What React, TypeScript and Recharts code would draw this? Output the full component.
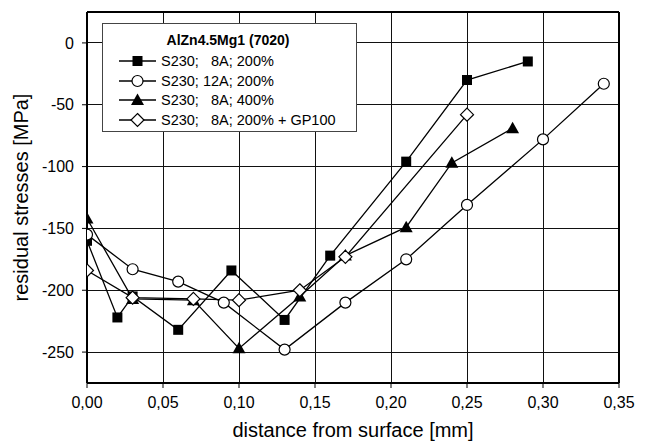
import { LineChart, Line, XAxis, YAxis, CartesianGrid, ReferenceLine } from 'recharts';

const xTicks = [0, 0.05, 0.1, 0.15, 0.2, 0.25, 0.3, 0.35];
const yTicks = [-250, -200, -150, -100, -50, 0];

// S230; 8A; 200%
const s8A200 = [
  { x: 0, y: -160 }, { x: 0.02, y: -222 }, { x: 0.03, y: -205 }, { x: 0.06, y: -232 },
  { x: 0.095, y: -184 }, { x: 0.13, y: -224 }, { x: 0.16, y: -172 }, { x: 0.21, y: -96 },
  { x: 0.25, y: -30 }, { x: 0.29, y: -15 },
];
// S230; 12A; 200%
const s12A200 = [
  { x: 0, y: -155 }, { x: 0.03, y: -183 }, { x: 0.06, y: -193 }, { x: 0.09, y: -210 },
  { x: 0.13, y: -248 }, { x: 0.17, y: -210 }, { x: 0.21, y: -175 }, { x: 0.25, y: -131 },
  { x: 0.3, y: -78 }, { x: 0.34, y: -33 },
];
// S230; 8A; 400%
const s8A400 = [
  { x: 0, y: -142 }, { x: 0.03, y: -207 }, { x: 0.07, y: -208 }, { x: 0.1, y: -247 },
  { x: 0.14, y: -205 }, { x: 0.17, y: -172 }, { x: 0.21, y: -149 }, { x: 0.24, y: -97 },
  { x: 0.28, y: -69 },
];
// S230; 8A; 200% + GP100
const s8A200GP = [
  { x: 0, y: -184 }, { x: 0.03, y: -206 }, { x: 0.07, y: -207 }, { x: 0.1, y: -208 },
  { x: 0.14, y: -200 }, { x: 0.17, y: -173 }, { x: 0.25, y: -58 },
];

const legendTitle = 'AlZn4.5Mg1 (7020)';
const legendLabels = ['S230;   8A; 200%', 'S230; 12A; 200%', 'S230;   8A; 400%', 'S230;   8A; 200% + GP100'];

const FONT = '"Liberation Sans", Arial, sans-serif';

type Shape = 'square' | 'circle' | 'triangle' | 'diamond';

const marker = (shape: Shape, cx: number, cy: number, key?: string) => {
  switch (shape) {
    case 'square':
      return <rect key={key} x={cx - 5} y={cy - 5} width={10} height={10} fill="#000" />;
    case 'circle':
      return <circle key={key} cx={cx} cy={cy} r={5.5} fill="#fff" stroke="#000" strokeWidth={1.2} />;
    case 'triangle':
      return <polygon key={key} points={`${cx},${cy - 6.5} ${cx - 6.5},${cy + 5} ${cx + 6.5},${cy + 5}`} fill="#000" />;
    default:
      return (
        <polygon key={key} points={`${cx},${cy - 6.5} ${cx + 6.5},${cy} ${cx},${cy + 6.5} ${cx - 6.5},${cy}`}
          fill="#fff" stroke="#000" strokeWidth={1.2} />
      );
  }
};

const dotFor = (shape: Shape) => (props: any) => marker(shape, props.cx, props.cy, `${shape}-${props.index}`);

const shapes: Shape[] = ['square', 'circle', 'triangle', 'diamond'];

const Legend = () => (
  <div style={{
    position: 'absolute', left: 102, top: 23, width: 255, height: 109, background: '#fff',
    border: '1px solid #444', boxSizing: 'border-box', fontFamily: FONT,
  }}>
    <div style={{ position: 'absolute', left: 0, width: 250, top: 8, textAlign: 'center', fontWeight: 'bold', fontSize: 14 }}>
      {legendTitle}
    </div>
    {legendLabels.map((label, i) => (
      <div key={label} style={{ position: 'absolute', left: 16, top: 28 + i * 19.7, height: 18, display: 'flex', alignItems: 'center' }}>
        <svg width={40} height={18}>
          <line x1={0} y1={9} x2={37} y2={9} stroke="#000" strokeWidth={1.5} />
          {marker(shapes[i], 18.5, 9)}
        </svg>
        <span style={{ fontSize: 14.5, whiteSpace: 'pre', marginLeft: 2 }}>{label}</span>
      </div>
    ))}
  </div>
);

const YTitle = ({ viewBox }: any) => {
  const cy = viewBox ? viewBox.y + viewBox.height / 2 : 197;
  return (
    <text x={21} y={cy} transform={`rotate(-90, 21, ${cy})`} textAnchor="middle" dominantBaseline="central"
      fontSize={20} fontFamily={FONT} fill="#000">
      residual stresses [MPa]
    </text>
  );
};

const tickStyle = { fontSize: 16, fill: '#000', fontFamily: FONT };

export default function App() {
  return (
    <div style={{ position: 'absolute', left: 0, top: 0, width: 647, height: 444, background: '#fff' }}>
      <LineChart width={647} height={444} margin={{ top: 12, right: 28, left: 0, bottom: 0 }}>
        <CartesianGrid stroke="#111" strokeWidth={1} shapeRendering="crispEdges" />
        <XAxis
          type="number" dataKey="x" domain={[0, 0.35]} ticks={xTicks} allowDataOverflow
          tickFormatter={(v: number) => v.toFixed(2).replace('.', ',')}
          tick={tickStyle} tickSize={5} tickMargin={9} height={61}
          axisLine={{ stroke: '#000', strokeWidth: 2 }} tickLine={{ stroke: '#000' }}
          label={{ value: 'distance from surface [mm]', position: 'insideBottom', offset: 7, fontSize: 20, fill: '#000', fontFamily: FONT }}
        />
        <YAxis
          type="number" domain={[-275, 25]} ticks={yTicks} allowDataOverflow width={87}
          tick={tickStyle} tickSize={5} tickMargin={8}
          axisLine={{ stroke: '#000', strokeWidth: 2 }} tickLine={{ stroke: '#000' }}
          label={<YTitle />}
        />
        <ReferenceLine y={25} stroke="#000" strokeWidth={2} />
        <ReferenceLine x={0.35} stroke="#000" strokeWidth={2} />
        <Line data={s8A200} dataKey="y" type="linear" stroke="#000" strokeWidth={1.3} dot={dotFor('square')} isAnimationActive={false} />
        <Line data={s12A200} dataKey="y" type="linear" stroke="#000" strokeWidth={1.3} dot={dotFor('circle')} isAnimationActive={false} />
        <Line data={s8A400} dataKey="y" type="linear" stroke="#000" strokeWidth={1.3} dot={dotFor('triangle')} isAnimationActive={false} />
        <Line data={s8A200GP} dataKey="y" type="linear" stroke="#000" strokeWidth={1.3} dot={dotFor('diamond')} isAnimationActive={false} />
      </LineChart>
      <Legend />
    </div>
  );
}
